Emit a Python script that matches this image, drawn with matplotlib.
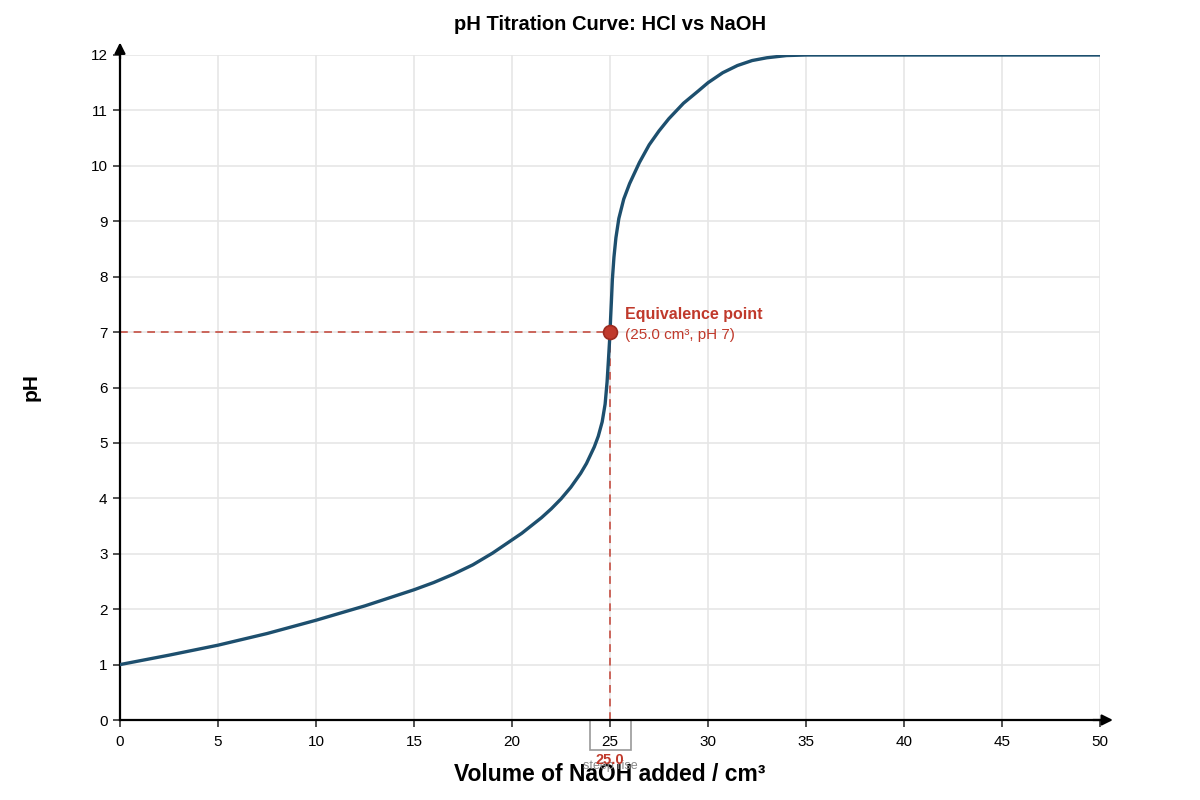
import matplotlib
matplotlib.use("Agg")
import matplotlib.pyplot as plt
from matplotlib.patches import Rectangle

plt.rcParams['font.family'] = ['Liberation Sans', 'DejaVu Sans']

# titration data
volume = [0, 2.5, 5, 7.5, 10, 12.5, 15, 16, 17, 18, 19, 20, 20.5, 21, 21.5,
          22, 22.5, 23, 23.5, 23.8, 24, 24.2, 24.4, 24.6, 24.75, 24.85, 24.92,
          24.97, 25, 25.03, 25.07, 25.12, 25.2, 25.3, 25.45, 25.7, 26.0, 26.5,
          27, 27.5, 28, 28.75, 29.5, 30, 30.75, 31.5, 32.25, 33, 34, 35, 40, 45, 50]
ph = [1.0, 1.17, 1.35, 1.56, 1.80, 2.06, 2.35, 2.48, 2.63, 2.80, 3.01, 3.25,
      3.37, 3.51, 3.65, 3.81, 3.99, 4.20, 4.45, 4.63, 4.78, 4.93, 5.12, 5.38,
      5.70, 6.10, 6.50, 6.80, 7.0, 7.25, 7.55, 7.95, 8.35, 8.70, 9.05, 9.40,
      9.68, 10.06, 10.38, 10.63, 10.85, 11.13, 11.35, 11.50, 11.68, 11.81,
      11.90, 11.95, 11.99, 12.0, 12.0, 12.0, 12.0]

eq_volume = 25.0
eq_ph = 7
x_ticks = list(range(0, 51, 5))
y_ticks = list(range(0, 13))

red = '#c0392b'
blue = '#1d4f6e'

fig = plt.figure(figsize=(12, 8), dpi=100)
ax = fig.add_axes([0.1, 0.1, 0.8167, 0.83125])

ax.set_xlim(0, 50)
ax.set_ylim(0, 12)
ax.set_xticks(x_ticks)
ax.set_yticks(y_ticks)
ax.grid(True, color='#e6e6e6', linewidth=1.2)
ax.set_axisbelow(True)
for s in ['top', 'right']:
    ax.spines[s].set_visible(False)
for s in ['left', 'bottom']:
    ax.spines[s].set_linewidth(1.6)
ax.tick_params(labelsize=11, length=5, width=1.2, color='#333333')
ax.tick_params(axis='y', pad=4)
ax.tick_params(axis='x', pad=6)

# axis arrows
ax.annotate('', xy=(0, 1.023), xytext=(0, 0.99), xycoords='axes fraction',
            arrowprops=dict(arrowstyle='-|>', color='black', lw=1.6, mutation_scale=16),
            annotation_clip=False)
ax.annotate('', xy=(1.016, 0), xytext=(0.99, 0), xycoords='axes fraction',
            arrowprops=dict(arrowstyle='-|>', color='black', lw=1.6, mutation_scale=16),
            annotation_clip=False)

# equivalence guides
ax.plot([0, eq_volume], [eq_ph, eq_ph], color=red, alpha=0.75, lw=1.4,
        dashes=(4, 3), zorder=2)
ax.plot([eq_volume, eq_volume], [0, eq_ph], color=red, alpha=0.75, lw=1.4,
        dashes=(4, 3), zorder=2)

ax.plot(volume, ph, color=blue, lw=2.4, zorder=3, solid_joinstyle='round')
ax.plot([eq_volume], [eq_ph], 'o', color=red, markersize=10,
        markeredgecolor='#9c2a1f', markeredgewidth=1.2, zorder=4)

ax.text(25.75, 7.18, 'Equivalence point', color=red, fontsize=11.5,
        fontweight='bold', va='bottom')
ax.text(25.75, 6.95, '(25.0 cm³, pH 7)', color=red, fontsize=11, va='center')

# highlight box around the 25 tick
ax.add_patch(Rectangle((24.0, -0.54), 2.05, 0.54, fill=False, edgecolor='#999999',
                       lw=1.2, clip_on=False, transform=ax.transData))
ax.text(eq_volume, -0.83, 'steep rise', color='#888888', fontsize=9,
        ha='center', va='center', clip_on=False)
ax.text(eq_volume, -0.73, '25.0', color=red, fontsize=10.5, fontweight='bold',
        ha='center', va='center', clip_on=False)

ax.set_title('pH Titration Curve: HCl vs NaOH', fontsize=14.5, fontweight='bold', pad=18)
ax.set_xlabel('Volume of NaOH added / cm³', fontsize=16.5, fontweight='bold', labelpad=10)
ax.set_ylabel('pH', fontsize=15, fontweight='bold', labelpad=36)

fig.savefig('out.png', dpi=100)
